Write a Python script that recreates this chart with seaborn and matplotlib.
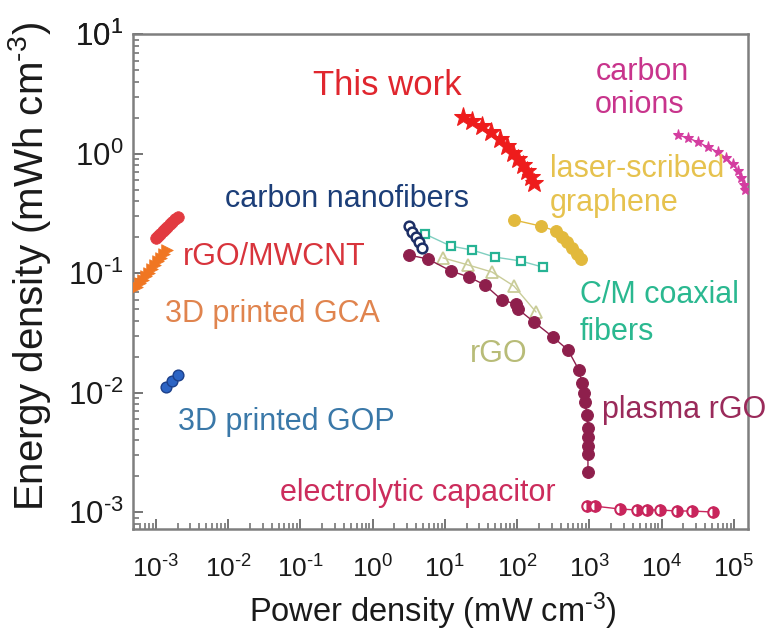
import numpy as np
import matplotlib
matplotlib.use("Agg")
import matplotlib.pyplot as plt
import seaborn as sns
from matplotlib.ticker import LogLocator, FixedLocator, NullFormatter, FuncFormatter

# Ragone data: power density (mW cm^-3) vs energy density (mWh cm^-3)
this_work_p = [17.7, 23.6, 32.5, 43.3, 57.7, 72.1, 87.3, 102, 120, 136, 155, 171]
this_work_e = [2.02, 1.87, 1.70, 1.51, 1.32, 1.16, 1.01, 0.90, 0.80, 0.714, 0.636, 0.566]

onions_p = [16800, 23100, 31700, 43700, 60100, 77500, 96800, 113500, 125000, 137500, 142000]
onions_e = [1.43, 1.35, 1.25, 1.13, 1.03, 0.917, 0.817, 0.714, 0.624, 0.545, 0.495]

laser_p = [90.2, 213, 344, 416, 488, 573, 671, 763]
laser_e = [0.278, 0.247, 0.225, 0.200, 0.182, 0.162, 0.144, 0.131]

nanofiber_p = [3.18, 3.49, 3.97, 4.37, 4.80]
nanofiber_e = [0.247, 0.220, 0.200, 0.182, 0.162]

coaxial_p = [5.29, 12.1, 23.6, 49.2, 113, 227]
coaxial_e = [0.212, 0.168, 0.156, 0.136, 0.126, 0.112]

rgo_p = [9.38, 20.8, 44.7, 90.2, 182]
rgo_e = [0.134, 0.117, 0.102, 0.0778, 0.0472]

plasma_p = [3.18, 5.82, 12.1, 21.5, 35.8, 61.5, 96.1, 102, 171, 313, 504, 716,
            787, 840, 867, 923, 953, 953, 953, 953, 953]
plasma_e = [0.1415, 0.131, 0.104, 0.0926, 0.0794, 0.0594, 0.0550, 0.0500, 0.0389,
            0.0291, 0.0227, 0.0154, 0.0120, 0.00991, 0.00834, 0.00648, 0.00505,
            0.00425, 0.00357, 0.00306, 0.00216]

electro_p = [923, 1190, 2640, 4540, 6250, 9460, 16300, 26200, 51200]
electro_e = [0.00112, 0.00112, 0.00106, 0.00104, 0.00104, 0.00104, 0.00102, 0.00102, 0.00100]

mwcnt_p = [1.00e-3, 1.07e-3, 1.14e-3, 1.25e-3, 1.33e-3, 1.42e-3, 1.56e-3, 1.67e-3, 1.83e-3, 2.02e-3]
mwcnt_e = [0.196, 0.204, 0.212, 0.225, 0.234, 0.243, 0.257, 0.267, 0.283, 0.294]

gca_p = [5.46e-4, 6.01e-4, 6.61e-4, 7.27e-4, 8.00e-4, 8.80e-4, 9.68e-4, 1.07e-3, 1.17e-3, 1.29e-3, 1.42e-3]
gca_e = [0.0764, 0.0825, 0.0874, 0.0944, 0.100, 0.108, 0.117, 0.126, 0.134, 0.144, 0.156]

gop_p = [1.37e-3, 1.65e-3, 2.02e-3]
gop_e = [0.0112, 0.0125, 0.0140]

x_decades = list(range(-3, 6))
y_decades = list(range(-3, 2))

sns.set_theme(style="ticks")
plt.rcParams["font.family"] = ["Liberation Sans", "DejaVu Sans"]
plt.rcParams["mathtext.fontset"] = "custom"
plt.rcParams["mathtext.rm"] = "Liberation Sans"
plt.rcParams["mathtext.it"] = "Liberation Sans"
plt.rcParams["mathtext.default"] = "regular"

HY = "\u2010"  # short hyphen used in the exponents

fig = plt.figure(figsize=(7.7, 6.41), dpi=100)
ax = fig.add_axes([0.1727, 0.1747, 0.7987, 0.7722])

def line(x, y, **kw):
    sns.lineplot(x=x, y=y, ax=ax, estimator=None, sort=False, **kw)

# plasma rGO
line(plasma_p, plasma_e, color="#8e1f4c", lw=1, marker="o", ms=8.5,
     markeredgecolor="#8e1f4c", markerfacecolor="#8e1f4c", zorder=3)
# rGO
line(rgo_p, rgo_e, color="#c9cc98", lw=1, marker="^", ms=9,
     markerfacecolor="none", markeredgecolor="#c9cc98", markeredgewidth=1.3, zorder=2)
# C/M coaxial fibers
line(coaxial_p, coaxial_e, color="#7fcfc0", lw=1, marker="s", ms=6,
     markerfacecolor="white", markeredgecolor="#27b394", markeredgewidth=1.6, zorder=4)
# carbon nanofibers
line(nanofiber_p, nanofiber_e, color="#1d2f66", lw=1, marker="o", ms=7,
     markerfacecolor="white", markeredgecolor="#1d2f66", markeredgewidth=1.8, zorder=5)
# laser-scribed graphene
line(laser_p, laser_e, color="#e2b93c", lw=1, marker="o", ms=8.5,
     markerfacecolor="#e2b93c", markeredgecolor="#e2b93c", zorder=3)
# electrolytic capacitor
line(electro_p, electro_e, color="#c8255c", lw=1, marker="o", ms=7.5,
     fillstyle="right", markerfacecolor="#c8255c", markerfacecoloralt="white",
     markeredgecolor="#c8255c", markeredgewidth=1.5, zorder=3)
# this work
line(this_work_p, this_work_e, color="#ee1c1c", lw=1, marker="*", ms=14,
     markerfacecolor="#ee1c1c", markeredgecolor="#ee1c1c", zorder=6)
# carbon onions
line(onions_p, onions_e, color="#d43da0", lw=1, marker="*", ms=8,
     markerfacecolor="#d43da0", markeredgecolor="#d43da0", zorder=3)
# rGO/MWCNT
sns.scatterplot(x=mwcnt_p, y=mwcnt_e, ax=ax, color="#e23a40", s=70,
                edgecolor="#e23a40", linewidth=0.5, zorder=3)
# 3D printed GCA
sns.scatterplot(x=gca_p, y=gca_e, ax=ax, color="#f07622", marker=">", s=70,
                edgecolor="#f07622", linewidth=0.5, zorder=3)
# 3D printed GOP
sns.scatterplot(x=gop_p, y=gop_e, ax=ax, color="#2c64c4", s=60,
                edgecolor="#1b3f8a", linewidth=1.0, zorder=3)

ax.set_xscale("log")
ax.set_yscale("log")
ax.set_xlim(4.81e-4, 1.563e5)
ax.set_ylim(7.21e-4, 10)

ax.xaxis.set_major_locator(FixedLocator([10.0 ** d for d in x_decades]))
ax.yaxis.set_major_locator(FixedLocator([10.0 ** d for d in y_decades] + [10.0]))
ax.xaxis.set_minor_locator(LogLocator(base=10, subs=np.arange(2, 10), numticks=100))
ax.yaxis.set_minor_locator(LogLocator(base=10, subs=np.arange(2, 10), numticks=100))
ax.xaxis.set_minor_formatter(NullFormatter())
ax.yaxis.set_minor_formatter(NullFormatter())


def decade_label(v, pos):
    e = int(round(np.log10(v)))
    s = str(e).replace("-", HY)
    return r"$\mathregular{10^{%s}}$" % s


ax.xaxis.set_major_formatter(FuncFormatter(decade_label))
ax.yaxis.set_major_formatter(FuncFormatter(decade_label))

for s in ax.spines.values():
    s.set_visible(True)
    s.set_color("#7f7f7f")
    s.set_linewidth(1.8)
ax.xaxis.set_ticks_position("bottom")
ax.yaxis.set_ticks_position("left")
ax.tick_params(which="both", direction="in", color="#6a6a6a", labelcolor="#1a1a1a")
ax.tick_params(which="major", length=7, width=1.3)
ax.tick_params(which="minor", length=4, width=1.1)
ax.tick_params(axis="x", which="major", pad=19, labelsize=19)
ax.tick_params(axis="y", which="major", pad=7, labelsize=22.5)

fig.text(0.038, 0.585, "Energy density (mWh cm$^{%s3}$)" % HY, rotation=90,
         ha="center", va="center", fontsize=29, color="#1a1a1a")
fig.text(0.562, 0.0296, "Power density (mW cm$^{%s3}$)" % HY, ha="center",
         va="baseline", fontsize=23.5, color="#1a1a1a")

labels = [
    ("This work", 0.293, 0.877, "#e0262e", 25, "left"),
    ("carbon", 0.828, 0.907, "#c8348c", 22, "center"),
    ("onions", 0.824, 0.840, "#c8348c", 22, "center"),
    ("laser-scribed", 0.678, 0.711, "#e6c24e", 22, "left"),
    ("graphene", 0.678, 0.642, "#e6c24e", 22, "left"),
    ("carbon nanofibers", 0.150, 0.650, "#1c3e78", 22, "left"),
    ("rGO/MWCNT", 0.081, 0.533, "#d8343c", 22, "left"),
    ("3D printed GCA", 0.052, 0.418, "#e0844e", 22, "left"),
    ("3D printed GOP", 0.073, 0.200, "#3a78a8", 22, "left"),
    ("C/M coaxial", 0.727, 0.457, "#2ab890", 22, "left"),
    ("fibers", 0.727, 0.382, "#2ab890", 22, "left"),
    ("rGO", 0.548, 0.337, "#b8bc78", 22, "left"),
    ("plasma rGO", 0.763, 0.224, "#9a2a5a", 22, "left"),
    ("electrolytic capacitor", 0.239, 0.057, "#cc2c5c", 22, "left"),
]
for txt, fx, fy, col, fs, ha in labels:
    ax.text(fx, fy, txt, transform=ax.transAxes, color=col, fontsize=fs,
            ha=ha, va="baseline", zorder=7)

fig.savefig("out.png", dpi=100, facecolor="white")
